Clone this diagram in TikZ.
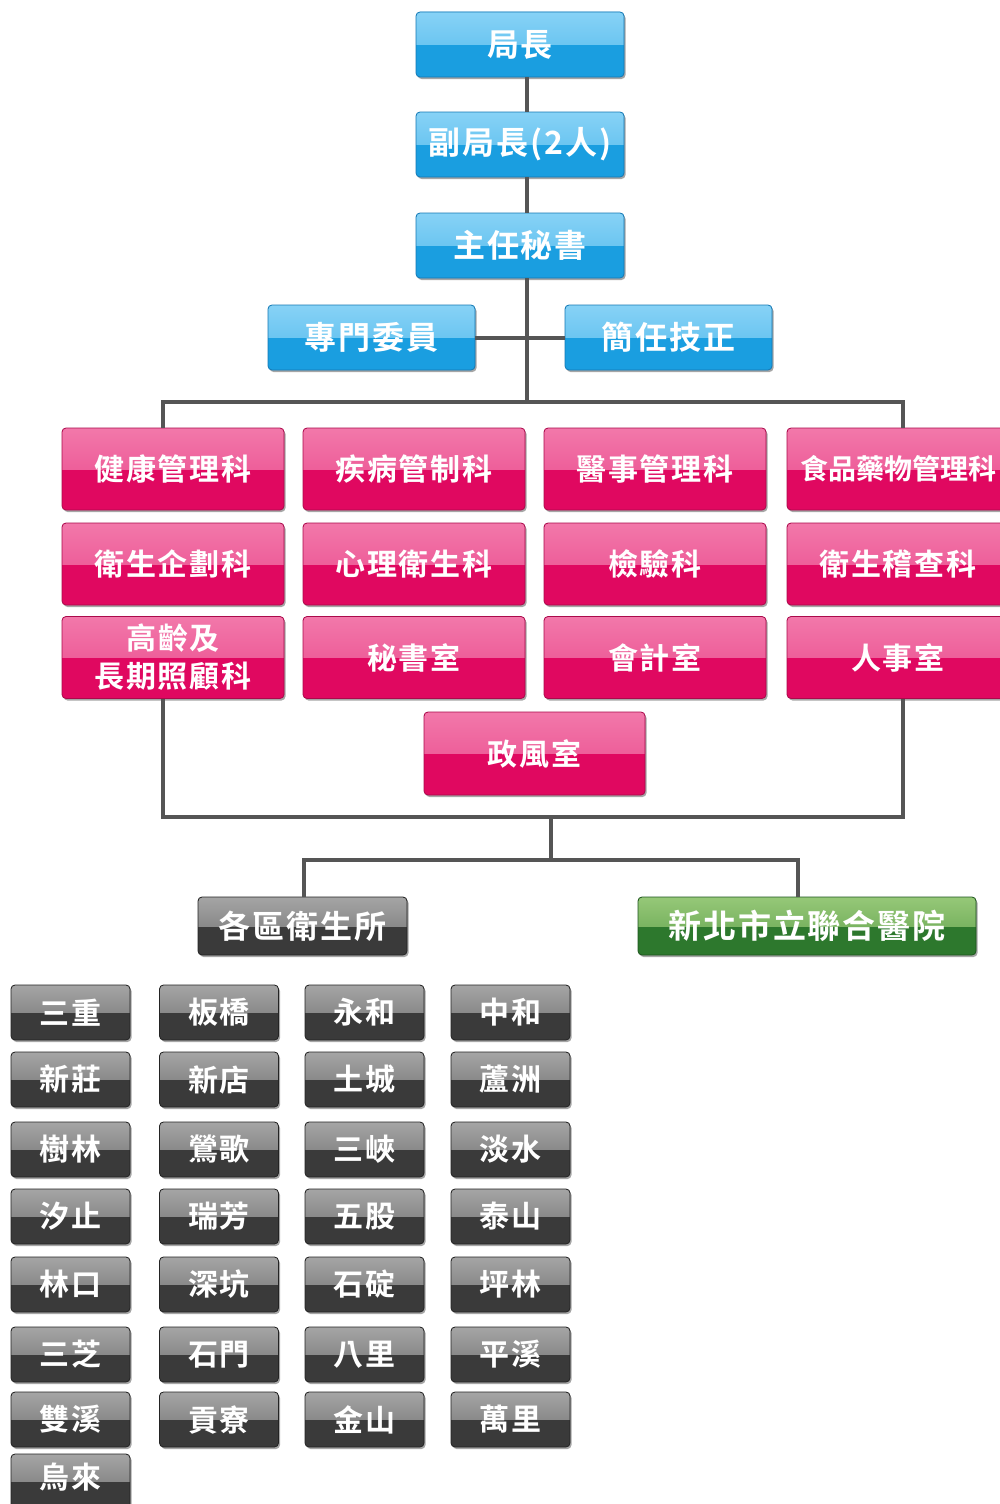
\documentclass[tikz,border=0pt]{standalone}
\usepackage{fontspec}
\usetikzlibrary{shadows,calc}
\IfFontExistsTF{Noto Sans CJK TC Bold}
 {\newfontfamily\cjk{Noto Sans CJK TC Bold}[LetterSpace=6]%
  \newfontfamily\cjktight{Noto Sans CJK TC Bold}}
 {\newfontfamily\cjk{Noto Sans CJK TC}[FakeBold=1.5,LetterSpace=6]%
  \newfontfamily\cjktight{Noto Sans CJK TC}[FakeBold=1.5]}
\definecolor{bluetopA}{RGB}{135,210,246}
\definecolor{bluetopB}{RGB}{80,185,236}
\definecolor{bluebot}{RGB}{26,158,224}
\definecolor{blueedge}{RGB}{20,120,180}
\definecolor{pinktopA}{RGB}{242,120,170}
\definecolor{pinktopB}{RGB}{234,70,138}
\definecolor{pinkbot}{RGB}{224,8,96}
\definecolor{pinkedge}{RGB}{170,10,75}
\definecolor{graytopA}{RGB}{165,165,165}
\definecolor{graytopB}{RGB}{110,110,110}
\definecolor{graybot}{RGB}{58,58,58}
\definecolor{grayedge}{RGB}{35,35,35}
\definecolor{greentopA}{RGB}{150,200,120}
\definecolor{greentopB}{RGB}{95,160,75}
\definecolor{greenbot}{RGB}{45,120,45}
\definecolor{greenedge}{RGB}{30,85,30}
\definecolor{linec}{RGB}{85,85,85}
\begin{document}
\begin{tikzpicture}[x=1pt,y=-1pt,
  glossbase/.style={rounded corners=4pt, inner sep=0pt, align=center, text=white,
    line width=0.8pt,
    drop shadow={shadow xshift=1.5pt, shadow yshift=-2pt, opacity=0.35, fill=black}},
  bluebox/.style={glossbase, fill=bluebot, draw=blueedge, minimum width=208pt, minimum height=65pt,
    font=\cjk\fontsize{32}{36}\selectfont,
    path picture={\fill[sharp corners, top color=bluetopA, bottom color=bluetopB]
      (path picture bounding box.north west) rectangle (path picture bounding box.east);}},
  pinkbox/.style={glossbase, fill=pinkbot, draw=pinkedge, minimum width=222pt, minimum height=82pt,
    font=\cjk\fontsize{30}{38}\selectfont,
    path picture={\fill[sharp corners, top color=pinktopA, bottom color=pinktopB]
      (path picture bounding box.north west) rectangle (path picture bounding box.east);}},
  graybox/.style={glossbase, fill=graybot, draw=grayedge, minimum width=119pt, minimum height=55pt,
    font=\cjk\fontsize{30}{34}\selectfont,
    path picture={\fill[sharp corners, top color=graytopA, bottom color=graytopB]
      (path picture bounding box.north west) rectangle (path picture bounding box.east);}},
  greenbox/.style={glossbase, fill=greenbot, draw=greenedge, minimum height=58pt,
    font=\cjk\fontsize{33}{36}\selectfont,
    path picture={\fill[sharp corners, top color=greentopA, bottom color=greentopB]
      (path picture bounding box.north west) rectangle (path picture bounding box.east);}},
  conn/.style={draw=linec, line width=4pt, line join=miter}
]
\path[use as bounding box, fill=white] (0,0) rectangle (1000,1504);
\clip (0,0) rectangle (1000,1504);

% top chain
\node[bluebox] (chief) at (520,44.5) {局長};
\node[bluebox] (dep) at (520,144.5) {副局長(2人)};
\node[bluebox] (sec) at (520,245.5) {主任秘書};
\node[bluebox, minimum width=207pt] (spec) at (371.5,337.5) {專門委員};
\node[bluebox, minimum width=207pt] (tech) at (668.5,337.5) {簡任技正};

% pink departments
\node[pinkbox] (p11) at (173,469) {健康管理科};
\node[pinkbox] (p12) at (414,469) {疾病管制科};
\node[pinkbox] (p13) at (655,469) {醫事管理科};
\node[pinkbox] (p14) at (898,469) {};
\node[font=\cjktight\fontsize{28}{32}\selectfont, text=white, inner sep=0pt] (p14t) at (p14.center) {食品藥物管理科};
\node[pinkbox] (p21) at (173,564) {衛生企劃科};
\node[pinkbox] (p22) at (414,564) {心理衛生科};
\node[pinkbox] (p23) at (655,564) {檢驗科};
\node[pinkbox] (p24) at (898,564) {衛生稽查科};
\node[pinkbox] (p31) at (173,657.5) {高齡及\\長期照顧科};
\node[pinkbox] (p32) at (414,657.5) {秘書室};
\node[pinkbox] (p33) at (655,657.5) {會計室};
\node[pinkbox] (p34) at (898,657.5) {人事室};
\node[pinkbox, minimum width=221pt, minimum height=83pt] (p41) at (534.5,753.5) {政風室};

% lower level
\node[greenbox, fill=graybot, draw=grayedge, font=\cjk\fontsize{32}{36}\selectfont,
  path picture={\fill[sharp corners, top color=graytopA, bottom color=graytopB]
      (path picture bounding box.north west) rectangle (path picture bounding box.east);},
  minimum width=209pt] (ward) at (302.5,926) {各區衛生所};
\node[greenbox, minimum width=338pt] (hosp) at (807,926) {新北市立聯合醫院};

% district grid
\foreach \r/\y/\a/\b/\c/\d in {
  1/1012.5/三重/板橋/永和/中和,
  2/1079.5/新莊/新店/土城/蘆洲,
  3/1149.5/樹林/鶯歌/三峽/淡水,
  4/1216.5/汐止/瑞芳/五股/泰山,
  5/1284.5/林口/深坑/石碇/坪林,
  6/1354.5/三芝/石門/八里/平溪,
  7/1419.5/雙溪/貢寮/金山/萬里}{
  \node[graybox] (d\r a) at (70.5,\y) {\a};
  \node[graybox] (d\r b) at (219,\y) {\b};
  \node[graybox] (d\r c) at (364.5,\y) {\c};
  \node[graybox] (d\r d) at (510.5,\y) {\d};
}
\node[graybox] (d8a) at (70.5,1481.5) {\raisebox{11pt}{烏來}};

% connectors
\coordinate (tx) at (527,0);
\coordinate (bus) at (527,402);
\coordinate (busL) at (163,402);
\coordinate (busR) at (903,402);
\coordinate (low) at (551,817);
\coordinate (split) at (551,860);
\coordinate (dl) at (304,860);
\coordinate (dr) at (798,860);
\draw[conn] (tx |- chief.south) -- (tx |- dep.north);
\draw[conn] (tx |- dep.south) -- (tx |- sec.north);
\draw[conn] (tx |- sec.south) -- (bus);
\draw[conn] (spec.east) -- (tech.west);
\draw[conn] (busL |- p11.north) -- (busL) -- (busR) -- (busR |- p14.north);
\draw[conn] (busL |- p31.south) -- (busL |- low) -- (busR |- low) -- (busR |- p34.south);
\draw[conn] (low) -- (split);
\draw[conn] (dl |- ward.north) -- (dl) -- (dr) -- (dr |- hosp.north);
\end{tikzpicture}
\end{document}
